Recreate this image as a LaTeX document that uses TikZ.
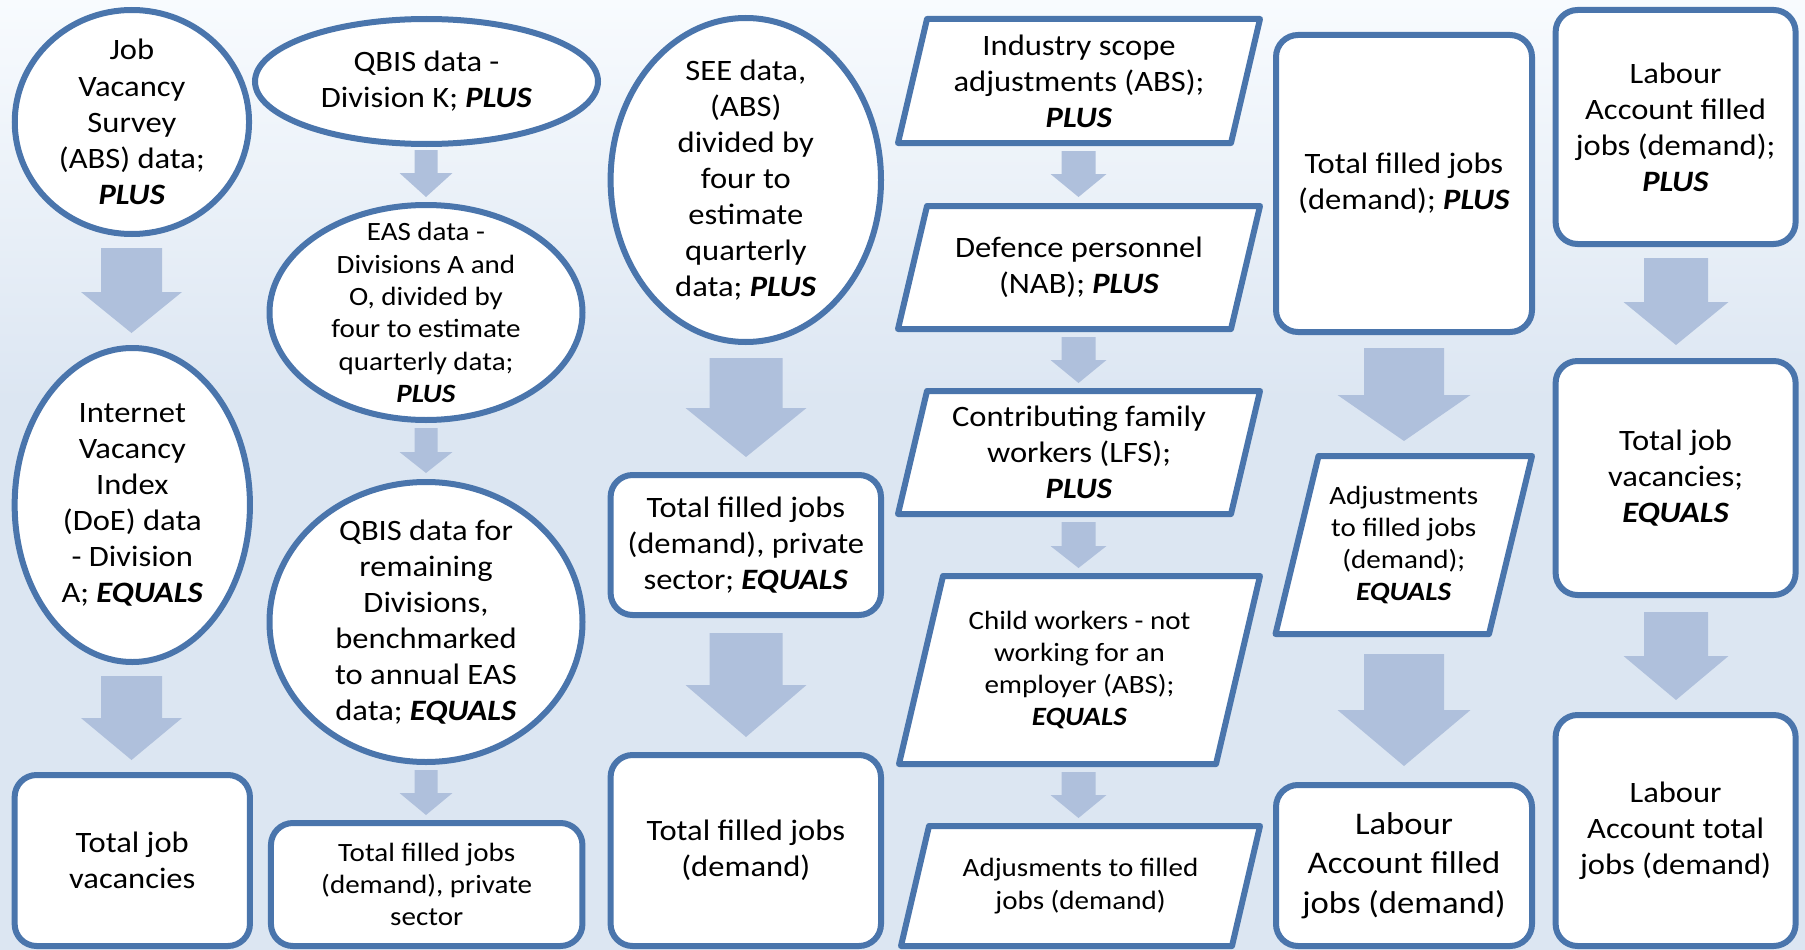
\documentclass[tikz,border=0pt]{standalone}
\usepackage{fontspec}
\setmainfont{Carlito}[FakeStretch=1.1]
\usetikzlibrary{shapes.geometric}
\definecolor{strokeblue}{RGB}{74,117,172}
\definecolor{arrowblue}{RGB}{175,192,220}
\definecolor{bgblue}{RGB}{220,230,242}
\definecolor{bgtop}{RGB}{248,251,254}
\newcommand{\fA}{\fontsize{29.6}{36.1}\selectfont}
\newcommand{\fB}{\fontsize{26.4}{32.3}\selectfont}
\newcommand{\fC}{\fontsize{31.5}{39.7}\selectfont}
\newcommand{\kw}[1]{\textbf{\textit{#1}}}
% cx, top, head start, tip, shaft half width, head half width
\newcommand{\blockarrow}[6]{%
  \fill[arrowblue] ({#1-#5},#2) -- ({#1+#5},#2) -- ({#1+#5},#3) -- ({#1+#6},#3)
    -- (#1,#4) -- ({#1-#6},#3) -- ({#1-#5},#3) -- cycle;}
% name, ytop, ybottom, x top-left, x top-right, slant, font, text
\newcommand{\paral}[8]{%
  \draw[pline] (#4,#2) -- (#5,#2) -- ({#5-#6},#3) -- ({#4-#6},#3) -- cycle;
  \node[txt,font=#7] (#1) at ({(#4+#5-#6)/2},{(#2+#3)/2}) {#8};}
\tikzset{
  ellbox/.style={ellipse,draw=strokeblue,line width=6pt,fill=white,inner sep=0pt},
  rbox/.style={rectangle,rounded corners=22pt,draw=strokeblue,line width=6pt,fill=white,inner sep=0pt},
  pline/.style={draw=strokeblue,line width=6pt,fill=white,line join=round},
  txt/.style={align=center,inner sep=0pt,text=black},
}
\begin{document}
\begin{tikzpicture}[x=1pt,y=-1pt]
\useasboundingbox (0,0) rectangle (1805,950);
\fill[bgblue] (0,0) rectangle (1805,950);
\shade[top color=bgtop,bottom color=bgblue] (0,0) rectangle (1805,400);

% ---------- column 1
\node[ellbox,minimum width=234.3pt,minimum height=224pt] (jvs) at (131.9,122) {};
\node[txt,font=\fA] (jvst) at (jvs) {Job\\Vacancy\\Survey\\(ABS) data;\\\kw{PLUS}};
\node[ellbox,minimum width=235.3pt,minimum height=314pt] (ivi) at (132.3,505) {};
\node[txt,font=\fA] (ivit) at (ivi) {Internet\\Vacancy\\Index\\(DoE) data\\- Division\\A; \kw{EQUALS}};
\node[rbox,minimum width=235.3pt,minimum height=171pt] (tjv) at (132.3,860.5) {};
\node[txt,font=\fA] (tjvt) at (tjv) {Total job\\vacancies};
\blockarrow{131.5}{248}{292}{333}{30.5}{50.5}
\blockarrow{131.5}{676}{718}{760}{30.5}{50.5}

% ---------- column 2
\node[ellbox,minimum width=343pt,minimum height=125pt] (qbk) at (426.5,81.5) {};
\node[txt,font=\fA] (qbkt) at (qbk) {QBIS data -\\Division K; \kw{PLUS}};
\node[ellbox,minimum width=313pt,minimum height=215pt] (eas) at (426,312.5) {};
\node[txt,font=\fB] (east) at (eas) {EAS data -\\Divisions A and\\O, divided by\\four to estimate\\quarterly data;\\\kw{PLUS}};
\node[ellbox,minimum width=313pt,minimum height=280pt] (qbr) at (426,622) {};
\node[txt,font=\fA] (qbrt) at (qbr) {QBIS data for\\remaining\\Divisions,\\benchmarked\\to annual EAS\\data; \kw{EQUALS}};
\node[rbox,minimum width=311.5pt,minimum height=123pt] (tfp) at (426.7,884.5) {};
\node[txt,font=\fB] (tfpt) at (tfp) {Total filled jobs\\(demand), private\\sector};
\blockarrow{426}{150}{173}{197}{11.5}{26.5}
\blockarrow{426}{428}{452}{473}{11.5}{26.5}
\blockarrow{426}{770}{793}{815}{11.5}{26.5}

% ---------- column 3
\node[ellbox,minimum width=270.4pt,minimum height=324pt] (see) at (745.8,180) {};
\node[txt,font=\fA] (seet) at (see) {SEE data,\\(ABS)\\divided by\\four to\\estimate\\quarterly\\data; \kw{PLUS}};
\node[rbox,minimum width=270.4pt,minimum height=140pt] (tfe) at (745.8,545) {};
\node[txt,font=\fA] (tfet) at (tfe) {Total filled jobs\\(demand), private\\sector; \kw{EQUALS}};
\node[rbox,minimum width=270.4pt,minimum height=191pt] (tfd) at (745.8,850.5) {};
\node[txt,font=\fA] (tfdt) at (tfd) {Total filled jobs\\(demand)};
\blockarrow{746}{358}{408}{457}{36.5}{60.5}
\blockarrow{746}{633}{685}{737}{36.5}{60.5}

% ---------- column 4
\paral{isa}{19}{143}{927}{1260}{29}{\fA}{Industry scope\\adjustments (ABS);\\\kw{PLUS}}
\paral{dp}{206}{329}{927}{1260}{29}{\fA}{Defence personnel\\(NAB); \kw{PLUS}}
\paral{cfw}{391}{514}{927}{1260}{29}{\fA}{Contributing family\\workers (LFS);\\\kw{PLUS}}
\paral{cw}{576}{764}{943}{1260}{44}{\fB}{Child workers - not\\working for an\\employer (ABS);\\\kw{EQUALS}}
\paral{adj}{826}{946}{929}{1260}{28}{\fB}{Adjusments to filled\\jobs (demand)}
\blockarrow{1078.5}{151}{174}{197}{17}{28}
\blockarrow{1078.5}{337}{360}{383}{17}{28}
\blockarrow{1078.5}{522}{546}{568}{17}{28}
\blockarrow{1078.5}{772}{795}{818}{17}{28}

% ---------- column 5
\node[rbox,minimum width=256pt,minimum height=297pt] (tfp5) at (1404,183.5) {};
\node[txt,font=\fA] (tfp5t) at (tfp5) {Total filled jobs\\(demand); \kw{PLUS}};
\paral{adj5}{456}{634}{1318.5}{1532}{43}{\fB}{Adjustments\\to filled jobs\\(demand);\\\kw{EQUALS}}
\node[rbox,minimum width=256pt,minimum height=161pt] (laf) at (1404,865.5) {};
\node[txt,font=\fC] (laft) at (laf) {Labour\\Account filled\\jobs (demand)};
\blockarrow{1404}{348}{395}{441}{40}{66.5}
\blockarrow{1404}{654}{710}{766}{40}{66.5}

% ---------- column 6
\node[rbox,minimum width=240pt,minimum height=234pt] (lap) at (1675.6,127) {};
\node[txt,font=\fA] (lapt) at (lap) {Labour\\Account filled\\jobs (demand);\\\kw{PLUS}};
\node[rbox,minimum width=240pt,minimum height=234pt] (tjve) at (1675.6,478) {};
\node[txt,font=\fA] (tjvet) at (tjve) {Total job\\vacancies;\\\kw{EQUALS}};
\node[rbox,minimum width=240pt,minimum height=231pt] (lat) at (1675.6,830.5) {};
\node[txt,font=\fA] (latt) at (lat) {Labour\\Account total\\jobs (demand)};
\blockarrow{1676}{258}{302}{345}{32}{52.5}
\blockarrow{1676}{612}{656}{700}{32}{52.5}
\end{tikzpicture}
\end{document}
